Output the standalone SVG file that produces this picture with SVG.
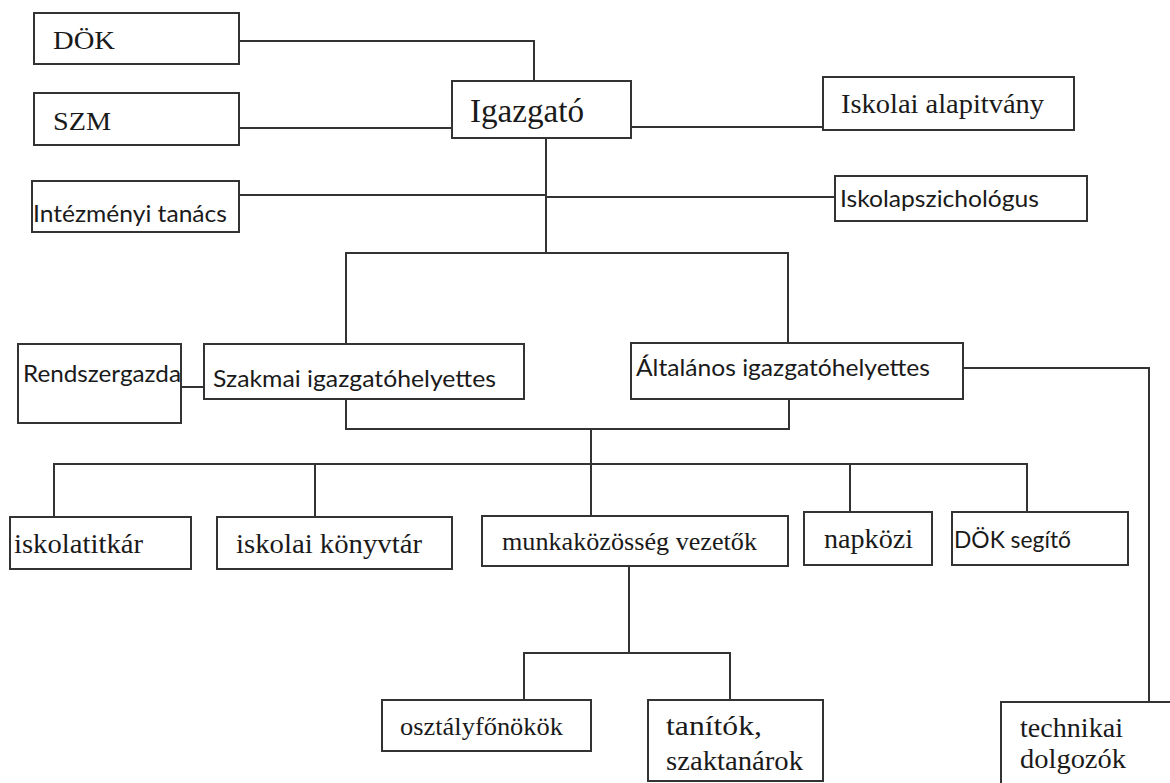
<svg xmlns="http://www.w3.org/2000/svg" width="1170" height="783" viewBox="0 0 1170 783">
<style>
.box{fill:#fff;stroke:#333;stroke-width:2}
.con{fill:none;stroke:#333;stroke-width:2}
.s{font-family:"Liberation Serif","Times New Roman",serif;fill:#1a1a1a}
.a{font-family:Lato,"Liberation Sans",sans-serif;fill:#1a1a1a}
</style>
<rect width="1170" height="783" fill="#fff"/>
<g id="connectors">
<path class="con" d="M239,41 H534 V81"/>
<path class="con" d="M239,128 H452"/>
<path class="con" d="M631,127 H823"/>
<path class="con" d="M546,138 V253"/>
<path class="con" d="M239,195 H546"/>
<path class="con" d="M546,197 H835"/>
<path class="con" d="M346,344 V253 H788 V343"/>
<path class="con" d="M181,387 H204"/>
<path class="con" d="M346,399 V429 H789 V399"/>
<path class="con" d="M591,429 V516"/>
<path class="con" d="M54,517 V464 H1027 V512"/>
<path class="con" d="M315,464 V517"/>
<path class="con" d="M850,464 V512"/>
<path class="con" d="M963,368 H1149 V702"/>
<path class="con" d="M629,566 V653"/>
<path class="con" d="M524,700 V653 H730 V700"/>
</g>
<g id="dok"><rect class="box" x="34" y="13" width="205" height="51"/><text class="s" x="53" y="49" font-size="26" textLength="62" lengthAdjust="spacingAndGlyphs">DÖK</text></g>
<g id="szm"><rect class="box" x="34" y="93" width="205" height="52"/><text class="s" x="53" y="130" font-size="26" textLength="58" lengthAdjust="spacingAndGlyphs">SZM</text></g>
<g id="igazgato"><rect class="box" x="452" y="81" width="179" height="57"/><text class="s" x="470" y="122" font-size="33" textLength="114" lengthAdjust="spacingAndGlyphs">Igazgató</text></g>
<g id="alapitvany"><rect class="box" x="823" y="77" width="251" height="53"/><text class="s" x="841" y="113" font-size="27" textLength="203" lengthAdjust="spacingAndGlyphs">Iskolai alapitvány</text></g>
<g id="intezmenyi"><rect class="box" x="32" y="181" width="207" height="51"/><text class="a" x="33" y="222" font-size="24" textLength="194" lengthAdjust="spacingAndGlyphs">Intézményi tanács</text></g>
<g id="pszichologus"><rect class="box" x="835" y="176" width="252" height="45"/><text class="a" x="840" y="207" font-size="24" textLength="199" lengthAdjust="spacingAndGlyphs">Iskolapszichológus</text></g>
<g id="rendszergazda"><rect class="box" x="18" y="344" width="163" height="79"/><text class="a" x="23" y="382" font-size="24" textLength="158" lengthAdjust="spacingAndGlyphs">Rendszergazda</text></g>
<g id="szakmai"><rect class="box" x="204" y="344" width="320" height="55"/><text class="a" x="213" y="387" font-size="24" textLength="283" lengthAdjust="spacingAndGlyphs">Szakmai igazgatóhelyettes</text></g>
<g id="altalanos"><rect class="box" x="631" y="343" width="332" height="56"/><text class="a" x="636" y="376" font-size="24" textLength="294" lengthAdjust="spacingAndGlyphs">Általános igazgatóhelyettes</text></g>
<g id="iskolatitkar"><rect class="box" x="10" y="517" width="181" height="52"/><text class="s" x="14" y="553" font-size="27" textLength="129" lengthAdjust="spacingAndGlyphs">iskolatitkár</text></g>
<g id="konyvtar"><rect class="box" x="217" y="517" width="235" height="52"/><text class="s" x="236" y="553" font-size="27" textLength="186" lengthAdjust="spacingAndGlyphs">iskolai könyvtár</text></g>
<g id="munkakozosseg"><rect class="box" x="482" y="516" width="306" height="50"/><text class="s" x="502" y="550" font-size="26" textLength="255" lengthAdjust="spacingAndGlyphs">munkaközösség vezetők</text></g>
<g id="napkozi"><rect class="box" x="804" y="512" width="128" height="53"/><text class="s" x="824" y="548" font-size="27" textLength="89" lengthAdjust="spacingAndGlyphs">napközi</text></g>
<g id="doksegito"><rect class="box" x="952" y="512" width="176" height="53"/><text class="a" x="954" y="548" font-size="24" textLength="117" lengthAdjust="spacingAndGlyphs">DÖK segítő</text></g>
<g id="osztalyfonokok"><rect class="box" x="382" y="700" width="209" height="51"/><text class="s" x="400" y="735" font-size="26" textLength="163" lengthAdjust="spacingAndGlyphs">osztályfőnökök</text></g>
<g id="tanitok"><rect class="box" x="648" y="700" width="175" height="81"/><text class="s" x="666" y="735" font-size="27" textLength="96" lengthAdjust="spacingAndGlyphs">tanítók,</text><text class="s" x="666" y="770" font-size="27" textLength="137" lengthAdjust="spacingAndGlyphs">szaktanárok</text></g>
<g id="technikai"><rect class="box" x="1001" y="702" width="200" height="120"/><text class="s" x="1020" y="737" font-size="27" textLength="103" lengthAdjust="spacingAndGlyphs">technikai</text><text class="s" x="1020" y="768" font-size="27" textLength="106" lengthAdjust="spacingAndGlyphs">dolgozók</text></g>
</svg>
